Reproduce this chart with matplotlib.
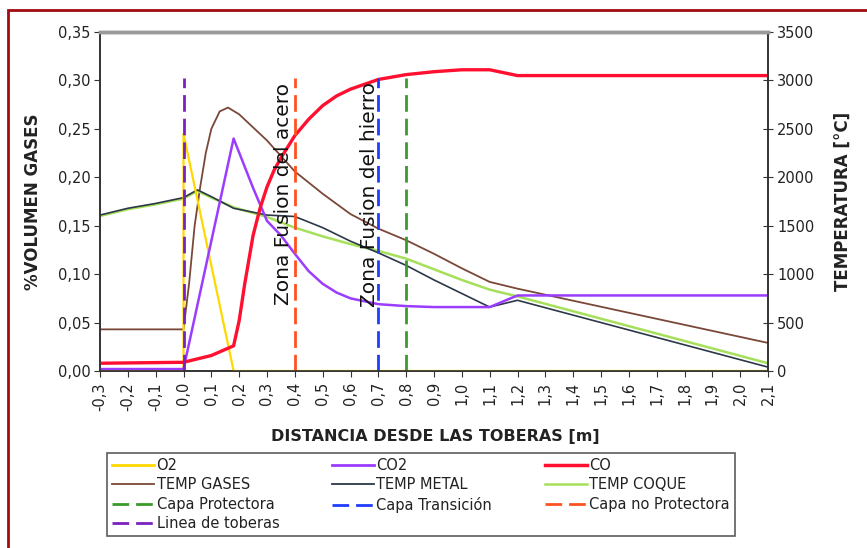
import matplotlib
matplotlib.use("Agg")
import matplotlib.pyplot as plt
from matplotlib.patches import Rectangle
from matplotlib.lines import Line2D

plt.rcParams["font.family"] = "DejaVu Sans"

# --- gases (% volumen, left axis) ---
O2_X = [-0.3, 0.0, 0.0, 0.18, 2.1]
O2_Y = [0.0, 0.0, 0.245, 0.0, 0.0]

CO2_X = [-0.3, 0.0, 0.18, 0.25, 0.30, 0.35, 0.40, 0.45, 0.50, 0.55, 0.60, 0.70,
         0.80, 0.90, 1.00, 1.10, 1.15, 1.20, 2.10]
CO2_Y = [0.002, 0.002, 0.240, 0.189, 0.155, 0.140, 0.121, 0.103, 0.090, 0.081,
         0.075, 0.069, 0.067, 0.066, 0.066, 0.066, 0.072, 0.078, 0.078]

CO_X = [-0.3, 0.0, 0.10, 0.18, 0.20, 0.22, 0.25, 0.275, 0.30, 0.325, 0.35, 0.40,
        0.45, 0.50, 0.55, 0.60, 0.70, 0.80, 0.90, 1.00, 1.10, 1.15, 1.20, 2.10]
CO_Y = [0.008, 0.009, 0.016, 0.026, 0.052, 0.090, 0.140, 0.168, 0.190, 0.207,
        0.220, 0.243, 0.260, 0.274, 0.284, 0.291, 0.301, 0.306, 0.309, 0.311,
        0.311, 0.308, 0.305, 0.305]

# --- temperatures (°C, right axis) ---
T_GAS_X = [-0.3, 0.0, 0.02, 0.04, 0.06, 0.08, 0.10, 0.13, 0.16, 0.20, 0.30, 0.40,
           0.50, 0.60, 0.70, 0.80, 0.90, 1.00, 1.10, 1.20, 2.10]
T_GAS_Y = [430, 430, 900, 1500, 1900, 2250, 2500, 2680, 2720, 2650, 2380, 2060,
           1830, 1620, 1470, 1350, 1210, 1060, 920, 850, 290]

T_SOLID_X = [-0.3, -0.2, -0.1, 0.0, 0.05, 0.10, 0.18, 0.30, 0.40, 0.50, 0.60,
             0.70, 0.80, 0.90, 1.00, 1.10, 1.20, 2.10]
T_METAL_Y = [1610, 1680, 1730, 1790, 1870, 1800, 1680, 1610, 1595, 1480, 1340,
             1220, 1090, 940, 800, 660, 730, 40]
T_COQUE_Y = [1600, 1670, 1720, 1780, 1860, 1790, 1690, 1590, 1480, 1390, 1310,
             1240, 1160, 1050, 940, 840, 770, 80]

# --- zone boundaries (x in m), drawn up to LINE_TOP ---
X_TOBERAS = 0.0
X_NO_PROT = 0.4
X_TRANS = 0.7
X_PROT = 0.8
LINE_TOP = 0.302

X_TICKS = [-0.3, -0.2, -0.1, 0.0, 0.1, 0.2, 0.3, 0.4, 0.5, 0.6, 0.7, 0.8, 0.9,
           1.0, 1.1, 1.2, 1.3, 1.4, 1.5, 1.6, 1.7, 1.8, 1.9, 2.0, 2.1]
X_LABELS = ["-0,3", "-0,2", "-0,1", "0,0", "0,1", "0,2", "0,3", "0,4", "0,5",
            "0,6", "0,7", "0,8", "0,9", "1,0", "1,1", "1,2", "1,3", "1,4", "1,5",
            "1,6", "1,7", "1,8", "1,9", "2,0", "2,1"]
Y_TICKS = [0.0, 0.05, 0.10, 0.15, 0.20, 0.25, 0.30, 0.35]
Y_LABELS = ["0,00", "0,05", "0,10", "0,15", "0,20", "0,25", "0,30", "0,35"]
T_TICKS = [0, 500, 1000, 1500, 2000, 2500, 3000, 3500]
T_LABELS = ["0", "500", "1000", "1500", "2000", "2500", "3000", "3500"]

C_O2, C_CO2, C_CO = "#ffd800", "#9b3cff", "#ff1030"
C_TGAS, C_TMET, C_TCOQ = "#7a4838", "#2c3848", "#a6e05a"
C_PROT, C_TRANS, C_NOPROT, C_TOB = "#3a9a2a", "#1f3cff", "#ff5020", "#7a22c0"
INK = "#222222"

W, H = 867, 548
fig = plt.figure(figsize=(W / 100, H / 100), dpi=100)
fig.patch.set_facecolor("white")

ax2 = fig.add_axes([100 / W, 1 - 371 / H, 668 / W, 339 / H])
ax = ax2.twinx()  # gases drawn above temperatures
ax.yaxis.tick_left()
ax.yaxis.set_label_position("left")
ax2.yaxis.tick_right()
ax2.yaxis.set_label_position("right")
ax.patch.set_visible(False)
ax2.set_facecolor("white")

# temperatures
ax2.plot(T_GAS_X, T_GAS_Y, color=C_TGAS, lw=1.3)
ax2.plot(T_SOLID_X, T_COQUE_Y, color=C_TCOQ, lw=1.8)
ax2.plot(T_SOLID_X, T_METAL_Y, color=C_TMET, lw=1.2)

# gases
ax.plot(O2_X, O2_Y, color=C_O2, lw=1.6)
ax.plot(CO2_X, CO2_Y, color=C_CO2, lw=1.8)
ax.plot(CO_X, CO_Y, color=C_CO, lw=2.4)

dash = (0, (6, 2.5))
for xv, col in [(X_TOBERAS, C_TOB), (X_NO_PROT, C_NOPROT),
                (X_TRANS, C_TRANS), (X_PROT, C_PROT)]:
    ax.plot([xv, xv], [0, LINE_TOP], color=col, lw=2, linestyle=dash)

ax.text(0.358, 0.068, "Zona Fusion del acero", rotation=90, ha="center",
        va="bottom", fontsize=14.5, color="#111111")
ax.text(0.67, 0.066, "Zona Fusion del hierro", rotation=90, ha="center",
        va="bottom", fontsize=14.5, color="#111111")

ax.set_xlim(-0.3, 2.1)
ax.set_ylim(0, 0.35)
ax2.set_ylim(0, 3500)
ax.set_xticks(X_TICKS)
ax.set_xticklabels(X_LABELS, rotation=90)
ax2.set_xticks(X_TICKS)
ax2.set_xticklabels(X_LABELS, rotation=90, fontsize=10.5, color=INK)
ax.tick_params(axis="x", bottom=False, labelbottom=False)
ax.set_yticks(Y_TICKS)
ax.set_yticklabels(Y_LABELS)
ax2.set_yticks(T_TICKS)
ax2.set_yticklabels(T_LABELS)
ax.tick_params(axis="y", direction="out", length=4, labelsize=10.5,
               labelcolor=INK, color="#333333", pad=3)
ax2.tick_params(axis="y", direction="inout", length=7, labelsize=10.5,
                labelcolor=INK, color="#333333", pad=3)
ax2.tick_params(axis="x", direction="out", length=4, color="#333333", pad=4)

for a in (ax, ax2):
    for s in ("left", "right", "bottom"):
        a.spines[s].set_color("#333333")
        a.spines[s].set_linewidth(1.2)
    a.spines["top"].set_color("#9a9a9a")
    a.spines["top"].set_linewidth(2.5)

ax.set_ylabel("%VOLUMEN GASES", fontsize=12, fontweight="bold", color=INK)
ax.yaxis.set_label_coords(-58 / 668, 0.5)
ax2.set_ylabel("TEMPERATURA [°C]", fontsize=12, fontweight="bold", color=INK)
ax2.yaxis.set_label_coords(1 + 66 / 668, 0.5)
fig.text(435 / W, 1 - 436 / H, "DISTANCIA DESDE LAS TOBERAS [m]", ha="center",
         va="center", fontsize=11.5, fontweight="bold", color=INK)

# legend (column-major order to get 3 rows across)
h = {
    "O2": Line2D([], [], color=C_O2, lw=2),
    "CO2": Line2D([], [], color=C_CO2, lw=2),
    "CO": Line2D([], [], color=C_CO, lw=2.5),
    "TEMP GASES": Line2D([], [], color=C_TGAS, lw=1.3),
    "TEMP METAL": Line2D([], [], color=C_TMET, lw=1.3),
    "TEMP COQUE": Line2D([], [], color=C_TCOQ, lw=1.8),
    "Capa Protectora": Line2D([], [], color=C_PROT, lw=2, linestyle=dash),
    "Capa Transición": Line2D([], [], color=C_TRANS, lw=2, linestyle=dash),
    "Capa no Protectora": Line2D([], [], color=C_NOPROT, lw=2, linestyle=dash),
    "Linea de toberas": Line2D([], [], color=C_TOB, lw=2, linestyle=dash),
}
order = ["O2", "TEMP GASES", "Capa Protectora", "Linea de toberas",
         "CO2", "TEMP METAL", "Capa Transición",
         "CO", "TEMP COQUE", "Capa no Protectora"]
leg = fig.legend([h[k] for k in order], order, ncol=3, loc="upper left",
                 bbox_to_anchor=(107 / W, 1 - 453 / H), fontsize=10.5,
                 frameon=True, fancybox=False, edgecolor="#333333",
                 handlelength=2.9, handletextpad=0.15, columnspacing=3.6,
                 labelspacing=0.3, borderpad=0.35, borderaxespad=0)
leg.get_frame().set_linewidth(1.2)
for t in leg.get_texts():
    t.set_color(INK)

# dark red frame around the whole figure
fig.patches.append(Rectangle((8 / W, -0.1), 1.2, 1.1 - 10 / H, transform=fig.transFigure,
                             fill=False, edgecolor="#a00c10", lw=2))

fig.savefig("out.png", dpi=100, facecolor="white")
